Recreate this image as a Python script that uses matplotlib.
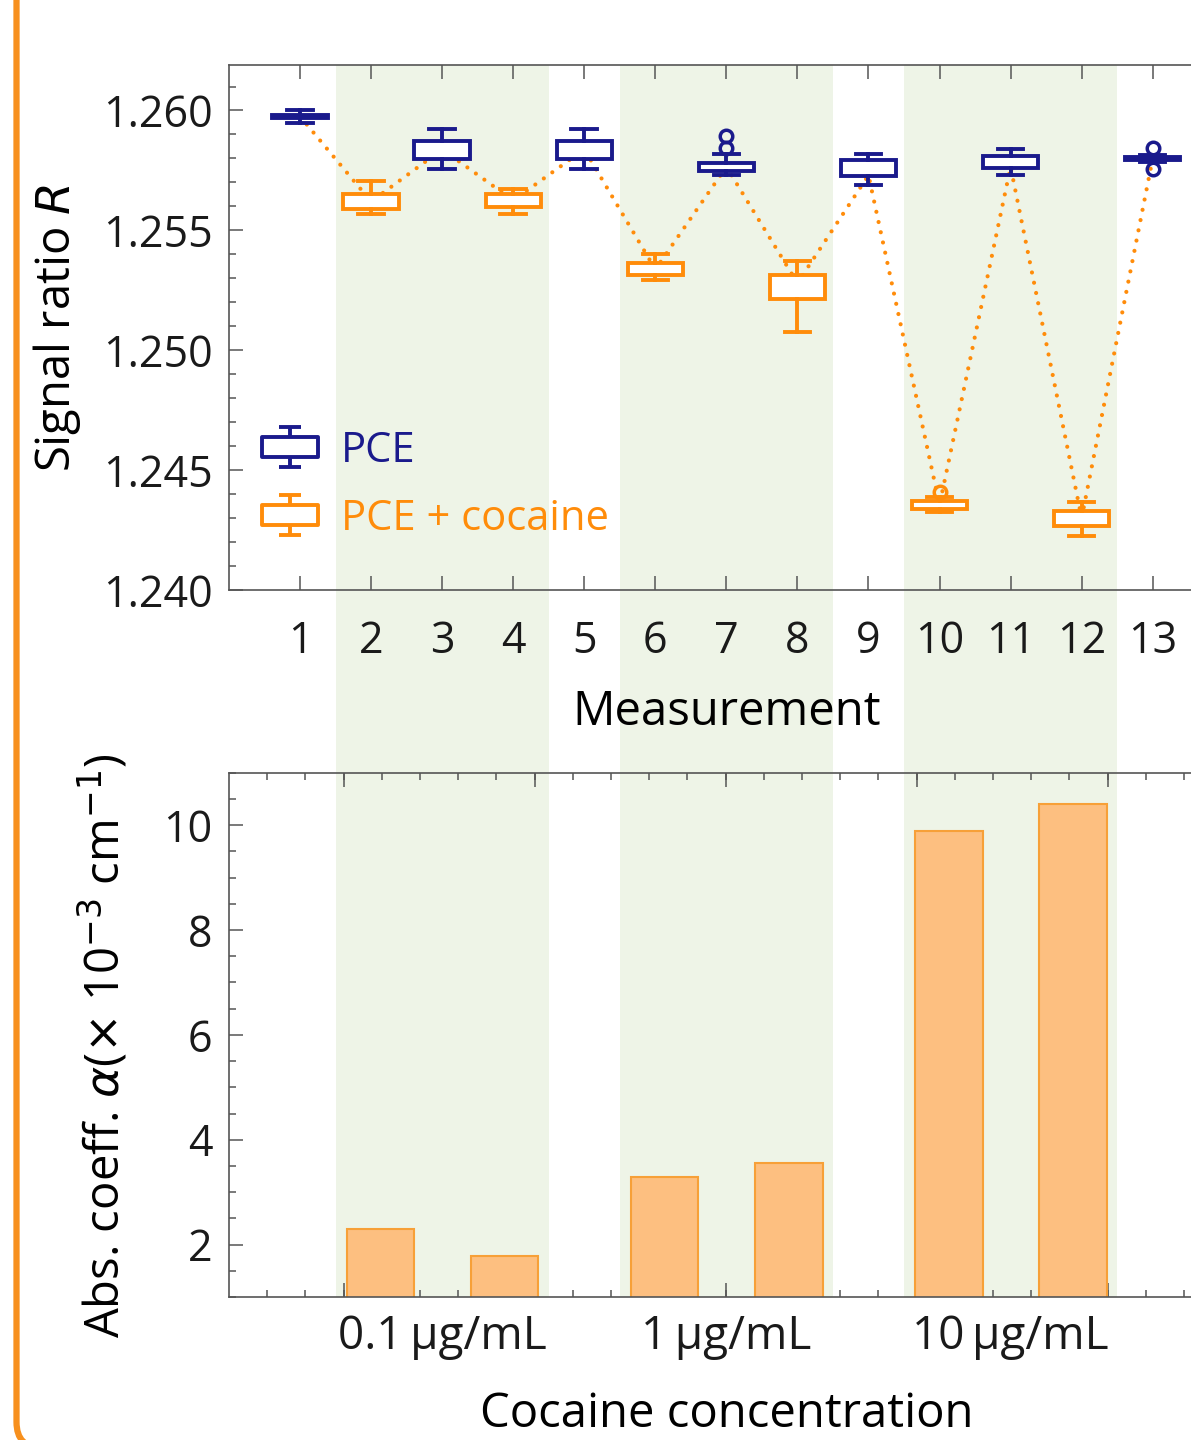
import numpy as np
import matplotlib
matplotlib.use("Agg")
import matplotlib.pyplot as plt
import matplotlib.transforms as mtransforms
from matplotlib.path import Path
from matplotlib.lines import Line2D
from matplotlib.patches import Rectangle, FancyBboxPatch
from matplotlib.ticker import FixedLocator, MultipleLocator, FormatStrFormatter

# --- top panel: signal ratio R per measurement (box-whisker stats) ---
measurements = list(range(1, 14))
series = ['PCE', 'cocaine', 'PCE', 'cocaine', 'PCE', 'cocaine', 'PCE',
          'cocaine', 'PCE', 'cocaine', 'PCE', 'cocaine', 'PCE']
medians = [1.25975, 1.2562, 1.25838, 1.25625, 1.25838, 1.25337, 1.25765,
           1.2528, 1.2573, 1.24355, 1.25765, 1.2430, 1.2580]
q1 = [1.25967, 1.25588, 1.25796, 1.25597, 1.25796, 1.25313, 1.25747,
      1.25215, 1.25726, 1.24337, 1.25761, 1.24265, 1.25792]
q3 = [1.25983, 1.25653, 1.25872, 1.25653, 1.25872, 1.25365, 1.25779,
      1.25313, 1.25792, 1.24372, 1.25812, 1.24330, 1.25808]
whislo = [1.25946, 1.25570, 1.25758, 1.25567, 1.25758, 1.25293, 1.25729,
          1.25076, 1.25688, 1.24324, 1.25733, 1.24226, 1.25785]
whishi = [1.26004, 1.25705, 1.25924, 1.25671, 1.25924, 1.25400, 1.25817,
          1.25372, 1.25817, 1.24386, 1.25840, 1.24365, 1.25815]
outliers = [[], [], [], [], [], [], [1.25893, 1.25845], [], [], [1.24407],
            [], [], [1.25845, 1.25754]]
legend_labels = {'PCE': 'PCE', 'cocaine': 'PCE + cocaine'}

# --- bottom panel: absorption coefficient per concentration ---
conc_labels = ['0.1\u2009µg/mL', '1\u2009µg/mL', '10\u2009µg/mL']
conc_groups = [3, 7, 11]          # middle measurement of each shaded group
alpha_values = [2.30, 1.79, 3.29, 3.55, 9.89, 10.40]

blue = '#1a1a8c'
orange = '#ff8c0a'
bar_fill = '#fdbf80'
bar_edge = '#f7a038'
shade = '#eef4e7'
gray = '#555555'
frame_orange = '#f7901e'

plt.rcParams['font.family'] = ['Open Sans', 'DejaVu Sans']
plt.rcParams['mathtext.fontset'] = 'dejavusans'

fig = plt.figure(figsize=(11.91, 14.4), dpi=100)
ax1 = fig.add_axes([0.1923, 0.5903, 0.8352, 0.3646])
ax2 = fig.add_axes([0.1923, 0.0993, 0.8352, 0.3641])

for ax in (ax1, ax2):
    ax.set_facecolor('none')
    for s in ax.spines.values():
        s.set_color(gray)
        s.set_linewidth(1.2)
    ax.tick_params(which='both', direction='in', top=True, right=True,
                   color=gray, width=1.1, labelcolor='#1a1a1a', labelsize=31)
    ax.tick_params(which='major', length=10)
    ax.tick_params(which='minor', length=5)

# shaded concentration groups spanning both panels
trans = mtransforms.blended_transform_factory(ax1.transData, fig.transFigure)
for c in conc_groups:
    ax1.add_patch(Rectangle((c - 1.5, 0.0993), 3, 0.9549 - 0.0993, transform=trans,
                            facecolor=shade, edgecolor='none', clip_on=False, zorder=0))

# dotted line joining medians
ax1.plot(measurements, medians, ls=(0, (0.01, 2.5)), lw=3.0, color=orange,
         dash_capstyle='round', zorder=1)

stats = [dict(med=m, q1=a, q3=b, whislo=lo, whishi=hi, fliers=f)
         for m, a, b, lo, hi, f in zip(medians, q1, q3, whislo, whishi, outliers)]
handles = []
glyph = Path([(-1, -0.36), (1, -0.36), (1, 0.36), (-1, 0.36), (-1, -0.36),
              (0, 0.36), (0, 0.71), (-0.41, 0.71), (0.41, 0.71),
              (0, -0.36), (0, -0.71), (-0.41, -0.71), (0.41, -0.71)],
             [Path.MOVETO, Path.LINETO, Path.LINETO, Path.LINETO, Path.CLOSEPOLY,
              Path.MOVETO, Path.LINETO, Path.MOVETO, Path.LINETO,
              Path.MOVETO, Path.LINETO, Path.MOVETO, Path.LINETO])
for name, col in (('PCE', blue), ('cocaine', orange)):
    idx = [i for i, s in enumerate(series) if s == name]
    ax1.bxp([stats[i] for i in idx], positions=[measurements[i] for i in idx],
            widths=0.78, capwidths=0.36, patch_artist=True, manage_ticks=False,
            boxprops=dict(facecolor='white', edgecolor=col, linewidth=2.8),
            whiskerprops=dict(color=col, linewidth=2.8),
            capprops=dict(color=col, linewidth=2.8),
            medianprops=dict(visible=False),
            flierprops=dict(marker='o', mfc='none', mec=col, ms=9, mew=2.5),
            zorder=3)
    handles.append(Line2D([], [], ls='none', marker=glyph, ms=40, mec=col,
                          mfc='white', mew=2.8, color=col, label=legend_labels[name]))

ax1.set_xlim(0, 14)
ax1.set_ylim(1.240, 1.2619)
ax1.set_xticks(measurements)
ax1.yaxis.set_major_locator(MultipleLocator(0.005))
ax1.yaxis.set_minor_locator(MultipleLocator(0.001))
ax1.yaxis.set_major_formatter(FormatStrFormatter('%.3f'))
ax1.tick_params(axis='x', pad=21)
ax1.tick_params(axis='y', pad=12)
ax1.set_xlabel('Measurement', fontsize=34)
ax1.xaxis.set_label_coords(0.5, -0.232)
ax1.xaxis.label.set_va('center')
ax1.set_ylabel('Signal ratio $R$', fontsize=34)
ax1.yaxis.set_label_coords(-0.173, 0.5)
ax1.yaxis.label.set_va('center')

ax1.legend(handles=handles, loc='center left', bbox_to_anchor=(0.033, 0.200),
           frameon=False, fontsize=30, handlelength=1.35, handletextpad=0.55,
           labelspacing=0.62, borderpad=0, borderaxespad=0, labelcolor='linecolor')

# bottom panel bars
bar_x = np.repeat(conc_groups, 2) + np.tile([-0.87, 0.88], len(conc_groups))
ax2.bar(bar_x, alpha_values, width=0.95, color=bar_fill, edgecolor=bar_edge,
        linewidth=1.5, zorder=2)
ax2.set_xlim(0, 14)
ax2.set_ylim(1, 11)
ax2.yaxis.set_major_locator(MultipleLocator(2))
ax2.yaxis.set_minor_locator(MultipleLocator(0.5))
ax2.xaxis.set_major_locator(FixedLocator(np.arange(1.613, 14, 2.688)))
ax2.xaxis.set_minor_locator(FixedLocator(np.arange(0.5376, 14, 0.5376)))
ax2.tick_params(axis='x', labelbottom=False)
ax2.tick_params(axis='y', pad=12)
ax2.set_ylabel(r'Abs. coeff. $\alpha$($\times$ 10$^{-3}$ cm$^{-1}$)', fontsize=34)
ax2.yaxis.set_label_coords(-0.127, 0.48)
ax2.yaxis.label.set_va('center')
ax2.set_xlabel('Cocaine concentration', fontsize=34)
ax2.xaxis.set_label_coords(0.5, -0.2695)
ax2.xaxis.label.set_va('bottom')

ctrans = mtransforms.blended_transform_factory(ax2.transData, ax2.transAxes)
for c, lab in zip(conc_groups, conc_labels):
    ax2.text(c, -0.077, lab, transform=ctrans, ha='center', va='center',
             fontsize=33, color='#1a1a1a')

# orange slide frame on the left (bottom edge runs just below the crop)
frame = FancyBboxPatch((0.165, -0.08), 14, 16, boxstyle='round,pad=0,rounding_size=0.26',
                       transform=fig.dpi_scale_trans, facecolor='none',
                       edgecolor=frame_orange, linewidth=4.5)
fig.add_artist(frame)

fig.savefig('out.png', dpi=100)
